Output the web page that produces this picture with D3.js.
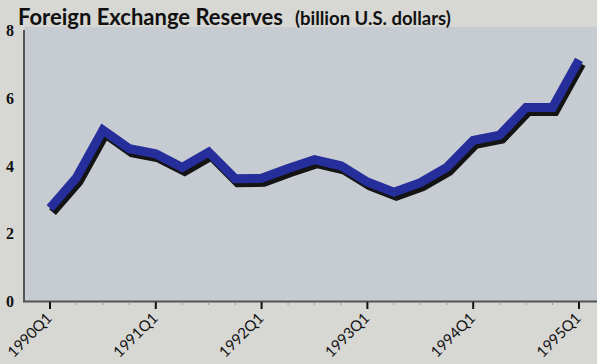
<!DOCTYPE html>
<html><head><meta charset="utf-8">
<script src="https://cdn.jsdelivr.net/npm/d3@7"></script>
<style>html,body{margin:0;padding:0;background:#d7d7d3;}svg{display:block;}</style>
</head><body>
<script>
const quarters = ["1990Q1","1990Q2","1990Q3","1990Q4","1991Q1","1991Q2","1991Q3","1991Q4",
  "1992Q1","1992Q2","1992Q3","1992Q4","1993Q1","1993Q2","1993Q3","1993Q4",
  "1994Q1","1994Q2","1994Q3","1994Q4","1995Q1"];
const reserves = [2.75,3.65,5.05,4.5,4.35,3.95,4.4,3.62,3.63,3.92,4.18,4.0,3.52,3.22,3.5,3.95,4.75,4.9,5.72,5.72,7.12];
const yTicks = [0,2,4,6,8];
const xTickLabels = ["1990Q1","1991Q1","1992Q1","1993Q1","1994Q1","1995Q1"];
const title = "Foreign Exchange Reserves";
const subtitle = "(billion U.S. dollars)";

const W = 597, H = 364;
const svg = d3.select("body").append("svg").attr("width", W).attr("height", H);
svg.append("rect").attr("width", W).attr("height", H).attr("fill", "#d7d7d3");

const x = d3.scalePoint().domain(quarters).range([50, 579]);
const y = d3.scaleLinear().domain([0, 8]).range([301.5, 30]);

// plot area
svg.append("rect").attr("x", 24).attr("y", 27).attr("width", W - 24).attr("height", 301.5 - 27)
  .attr("fill", "#c7ccd3");

// y axis
svg.append("line").attr("x1", 24).attr("x2", 24).attr("y1", 30).attr("y2", 302)
  .attr("stroke", "#555").attr("stroke-width", 2);
svg.selectAll(".ylab").data(yTicks).enter().append("text")
  .attr("x", 10).attr("y", d => y(d)).attr("dy", "0.36em")
  .attr("text-anchor", "middle")
  .style("font-family", "'Liberation Serif', serif").style("font-weight", "bold").style("font-size", "16px")
  .attr("fill", "#111").text(d => d);

// x axis
svg.append("line").attr("x1", 23).attr("x2", W).attr("y1", 301.5).attr("y2", 301.5)
  .attr("stroke", "#555").attr("stroke-width", 2);
svg.selectAll(".minor").data(quarters).enter().append("line")
  .attr("x1", d => x(d)).attr("x2", d => x(d)).attr("y1", 302).attr("y2", 305)
  .attr("stroke", "#999").attr("stroke-width", 1);
svg.selectAll(".major").data(xTickLabels).enter().append("line")
  .attr("x1", d => x(d)).attr("x2", d => x(d)).attr("y1", 302).attr("y2", 309)
  .attr("stroke", "#111").attr("stroke-width", 2);
svg.selectAll(".xlab").data(xTickLabels).enter().append("text")
  .attr("transform", d => `translate(${x(d) + 3},${319}) rotate(-45)`)
  .attr("text-anchor", "end")
  .style("font-family", "Lato, sans-serif").style("font-size", "15px")
  .attr("fill", "#111").text(d => d);

// line with shadow
const line = d3.line().x((d, i) => x(quarters[i])).y(d => y(d)).curve(d3.curveLinear);
svg.append("path").datum(reserves).attr("d", line)
  .attr("transform", "translate(2.5,4)")
  .attr("fill", "none").attr("stroke", "#141414").attr("stroke-width", 9)
  .attr("stroke-linejoin", "miter").attr("stroke-linecap", "butt");
svg.append("path").datum(reserves).attr("d", line)
  .attr("fill", "none").attr("stroke", "#262e9c").attr("stroke-width", 9)
  .attr("stroke-linejoin", "miter").attr("stroke-linecap", "butt");

// title
const t = svg.append("text").attr("x", 18).attr("y", 25)
  .style("font-family", "Lato, sans-serif").style("font-weight", "bold").attr("fill", "#111");
t.append("tspan").style("font-size", "22px").text(title);
t.append("tspan").attr("dx", 12).style("font-size", "18.5px").text(subtitle);
</script>
</body></html>
